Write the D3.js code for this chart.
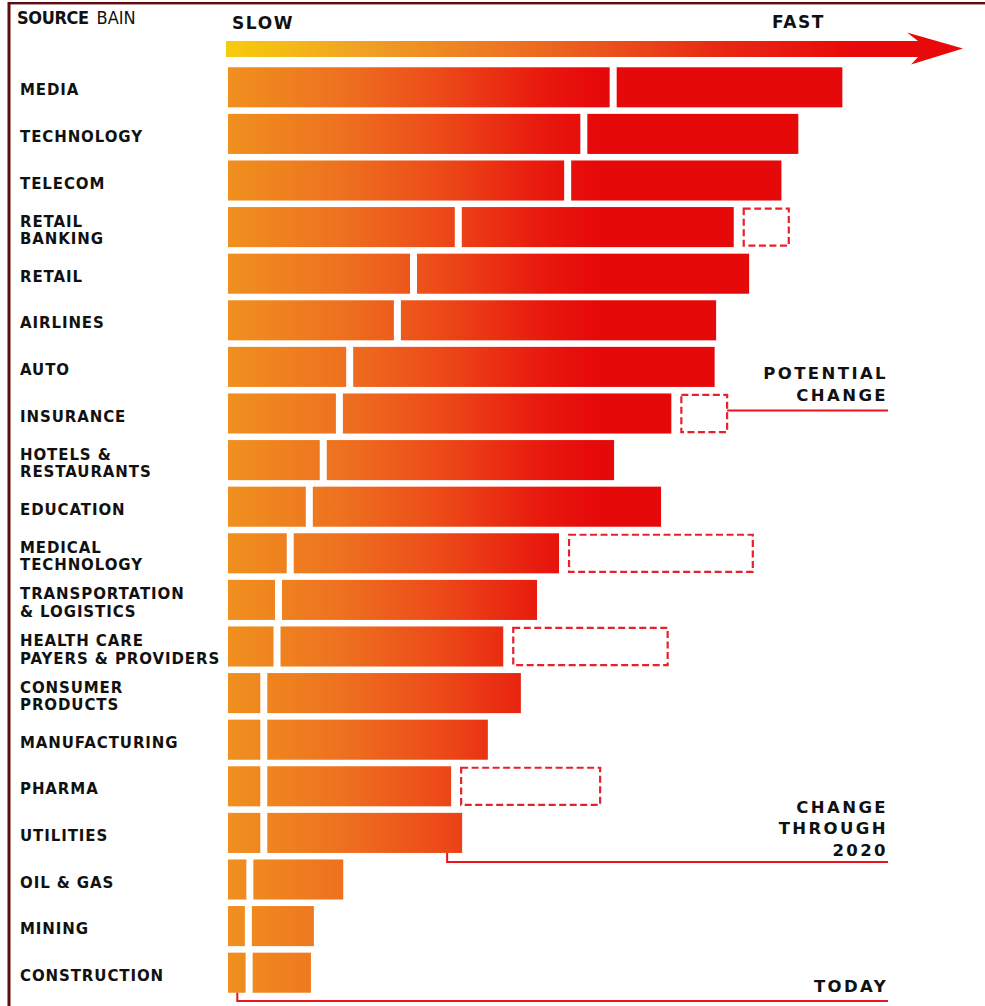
<!DOCTYPE html>
<html>
<head>
<meta charset="utf-8">
<script src="https://cdn.jsdelivr.net/npm/d3@7"></script>
<style>
  body { margin: 0; background: #fff; }
  svg { display: block; }
  .lbl { font-family: "DejaVu Sans", sans-serif; font-weight: bold; font-size: 15px; letter-spacing: 0.9px; fill: #111; }
  .note { font-family: "DejaVu Sans", sans-serif; font-weight: bold; font-size: 16.5px; letter-spacing: 2.4px; fill: #111; }
</style>
</head>
<body>
<svg></svg>
<script>

	var width = 985,
		height = 1006;

	// industries, top to bottom ("\n" = line break in label)
	var industries = [
		"MEDIA", "TECHNOLOGY", "TELECOM", "RETAIL\nBANKING", "RETAIL", "AIRLINES", "AUTO",
		"INSURANCE", "HOTELS &\nRESTAURANTS", "EDUCATION", "MEDICAL\nTECHNOLOGY",
		"TRANSPORTATION\n& LOGISTICS", "HEALTH CARE\nPAYERS & PROVIDERS", "CONSUMER\nPRODUCTS",
		"MANUFACTURING", "PHARMA", "UTILITIES", "OIL & GAS", "MINING", "CONSTRUCTION"
	];

	// speed of digital disruption, arbitrary 0-100 scale (slow -> fast)
	var today =       [52.0, 48.0, 45.8, 30.9, 24.8, 22.6, 16.1, 14.7, 12.5, 10.6, 8.0, 6.4, 6.2, 4.4, 4.4, 4.4, 4.4, 2.5, 2.3, 2.4];
	var through2020 = [83.7, 77.7, 75.4, 68.9, 71.0, 66.5, 66.3, 60.4, 52.6, 59.0, 45.1, 42.1, 37.5, 39.9, 35.4, 30.4, 31.9, 15.7, 11.7, 11.3];
	var potential =   [null, null, null, 76.4, null, null, null, 68.0, null, null, 71.5, null, 59.9, null, null, 50.7, null, null, null, null];

	var rows = industries.map(function(name, i) {
		return { 'name': name, 'today': today[i], 'through': through2020[i], 'potential': potential[i] };
	});

	var x = d3.scaleLinear().domain([0, 100]).range([228, 962]);
	var y = d3.scaleBand().domain(industries).range([64, 996]).paddingInner(0.14).paddingOuter(0.07);

	var svg = d3.select("svg")
		.attr("width", width)
		.attr("height", height);

	var defs = svg.append("defs");

	var barGrad = defs.append("linearGradient")
		.attr("id", "barGrad")
		.attr("gradientUnits", "userSpaceOnUse")
		.attr("x1", x(0)).attr("x2", x(50)).attr("y1", 0).attr("y2", 0);
	[[0, "#f0901e"], [0.3, "#ee7220"], [0.58, "#ec4a18"], [0.85, "#e81a0e"], [1, "#e6090a"]].forEach(function(s) {
		barGrad.append("stop").attr("offset", s[0]).attr("stop-color", s[1]);
	});

	var arrowGrad = defs.append("linearGradient")
		.attr("id", "arrowGrad")
		.attr("gradientUnits", "userSpaceOnUse")
		.attr("x1", x(0)).attr("x2", x(85)).attr("y1", 0).attr("y2", 0);
	[[0, "#f7cc0c"], [0.22, "#f0a024"], [0.5, "#ec6a20"], [0.78, "#e82a14"], [1, "#e80a0a"]].forEach(function(s) {
		arrowGrad.append("stop").attr("offset", s[0]).attr("stop-color", s[1]);
	});

	// page frame
	svg.append("rect").attr("x", 9).attr("y", 2).attr("width", width - 9).attr("height", 2.4).attr("fill", "#5e0c0c");
	svg.append("rect").attr("x", 7.5).attr("y", 2).attr("width", 3).attr("height", height).attr("fill", "#5e0c0c");

	// header
	var src = svg.append("text")
		.attr("x", 17).attr("y", 24)
		.style("font-family", "'DejaVu Sans Condensed', sans-serif")
		.style("font-stretch", "condensed")
		.style("font-size", "18px")
		.style("fill", "#111");
	src.append("tspan").style("font-weight", "bold").style("letter-spacing", "-0.4px").text("SOURCE");
	src.append("tspan").attr("dx", 8).text("BAIN");

	svg.append("text").attr("class", "note")
		.attr("x", x(0) + 4).attr("y", 28.5)
		.style("font-size", "17px").style("letter-spacing", "1.6px")
		.text("SLOW");
	svg.append("text").attr("class", "note")
		.attr("x", 825).attr("y", 28)
		.attr("text-anchor", "end")
		.style("font-size", "17px").style("letter-spacing", "1.6px")
		.text("FAST");

	// slow -> fast arrow
	var ax0 = x(0) - 2, tip = x(100) + 1;
	svg.append("path")
		.attr("d", "M" + ax0 + ",41 L" + (tip - 45) + ",41 L" + (tip - 56) + ",32.5 L" + tip + ",48.5 L" +
			(tip - 52) + ",64.5 L" + (tip - 45) + ",57 L" + ax0 + ",57 Z")
		.attr("fill", "url(#arrowGrad)");

	// labels
	var labels = svg.append("g").selectAll("text")
		.data(rows)
		.enter()
		.append("text")
		.attr("class", "lbl")
		.attr("x", 20)
		.attr("y", function(d) {
			var c = y(d.name) + y.bandwidth() / 2;
			return d.name.indexOf("\n") >= 0 ? c - 0.5 : c + 8;
		});
	labels.selectAll("tspan")
		.data(function(d) { return d.name.split("\n"); })
		.enter()
		.append("tspan")
		.attr("x", 20)
		.attr("dy", function(d, i) { return i ? 17.5 : 0; })
		.text(function(d) { return d; });

	var bars = svg.append("g");

	// today
	bars.selectAll(".today")
		.data(rows)
		.enter()
		.append("rect")
		.attr("class", "today")
		.attr("x", x(0))
		.attr("y", function(d) { return y(d.name); })
		.attr("width", function(d) { return x(d.today) - x(0); })
		.attr("height", y.bandwidth())
		.attr("fill", "url(#barGrad)");

	// change through 2020
	bars.selectAll(".through")
		.data(rows)
		.enter()
		.append("rect")
		.attr("class", "through")
		.attr("x", function(d) { return x(d.today) + 7; })
		.attr("y", function(d) { return y(d.name); })
		.attr("width", function(d) { return x(d.through) - x(d.today) - 7; })
		.attr("height", y.bandwidth())
		.attr("fill", "url(#barGrad)");

	// potential change
	bars.selectAll(".potential")
		.data(rows.filter(function(d) { return d.potential != null; }))
		.enter()
		.append("rect")
		.attr("class", "potential")
		.attr("x", function(d) { return x(d.through) + 10; })
		.attr("y", function(d) { return y(d.name) + 1.5; })
		.attr("width", function(d) { return x(d.potential) - x(d.through) - 10; })
		.attr("height", y.bandwidth() - 3)
		.attr("fill", "none")
		.attr("stroke", "#e8202a")
		.attr("stroke-width", 2.2)
		.attr("stroke-dasharray", "7,3.5");

	// annotations
	var right = 888;
	var ins = rows[industries.indexOf("INSURANCE")];
	var insY = y(ins.name) + y.bandwidth() / 2 - 3;
	svg.append("line")
		.attr("x1", x(ins.potential)).attr("x2", right)
		.attr("y1", insY).attr("y2", insY)
		.attr("stroke", "#e8141e").attr("stroke-width", 2);
	svg.append("text").attr("class", "note").attr("text-anchor", "end")
		.attr("x", right).attr("y", 379).text("POTENTIAL");
	svg.append("text").attr("class", "note").attr("text-anchor", "end")
		.attr("x", right).attr("y", 400.5).text("CHANGE");

	var util = rows[industries.indexOf("UTILITIES")];
	var uX = x(util.through) - 15, uY = y(util.name) + y.bandwidth();
	svg.append("path")
		.attr("d", "M" + uX + "," + uY + " V862 H" + right)
		.attr("fill", "none").attr("stroke", "#e8141e").attr("stroke-width", 2);
	["CHANGE", "THROUGH", "2020"].forEach(function(t, i) {
		svg.append("text").attr("class", "note").attr("text-anchor", "end")
			.attr("x", right).attr("y", 812.5 + i * 21.8).text(t);
	});

	var cons = rows[industries.indexOf("CONSTRUCTION")];
	var cX = x(cons.today / 2) + 0.5, cY = y(cons.name) + y.bandwidth();
	svg.append("path")
		.attr("d", "M" + cX + "," + cY + " V1001 H" + right)
		.attr("fill", "none").attr("stroke", "#e8141e").attr("stroke-width", 2);
	svg.append("text").attr("class", "note").attr("text-anchor", "end")
		.attr("x", right).attr("y", 992).text("TODAY");

</script>
</body>
</html>
